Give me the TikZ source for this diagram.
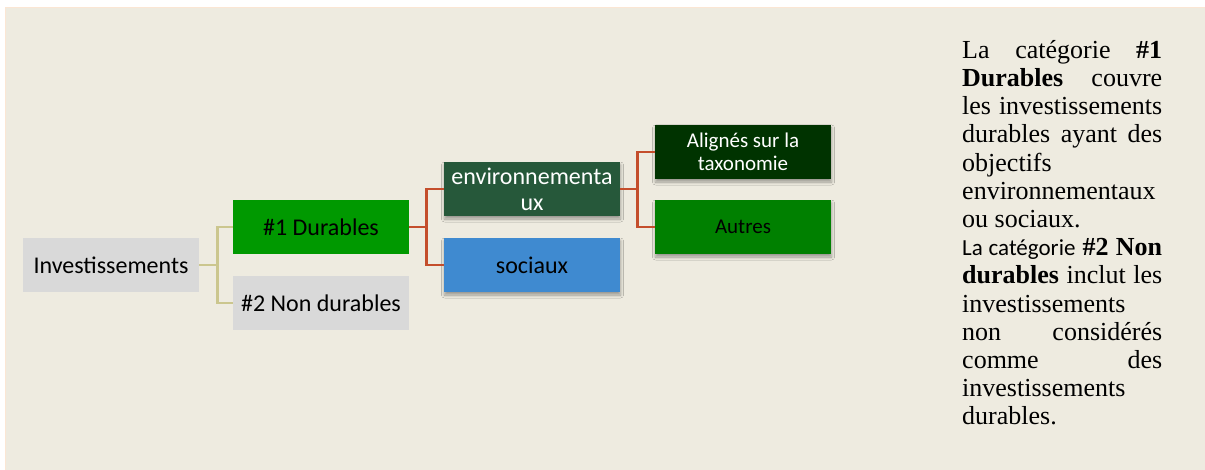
\documentclass[tikz,border=0pt]{standalone}
\usepackage{fontspec}
\setmainfont{Liberation Serif}
\newfontfamily\calfont{Carlito}
\usetikzlibrary{shadows.blur}
\definecolor{bgc}{HTML}{EEEBE0}
\definecolor{peach}{HTML}{FBE6D4}
\definecolor{grayb}{HTML}{D9D9D9}
\definecolor{greenA}{HTML}{009900}
\definecolor{envg}{HTML}{26583A}
\definecolor{blueS}{HTML}{3F8AD0}
\definecolor{darkg}{HTML}{003300}
\definecolor{greenB}{HTML}{008000}
\definecolor{olivel}{HTML}{CBC68E}
\definecolor{redl}{HTML}{C44E2C}
\tikzset{
  box/.style={rectangle, minimum width=176pt, minimum height=54pt, inner sep=0pt, align=center, font=\calfont\fontsize{24}{26}\selectfont},
  sbox/.style={box, font=\calfont\fontsize{21}{23}\selectfont},
  shad/.style={blur shadow={shadow xshift=0.5pt, shadow yshift=-3pt, shadow blur steps=6, shadow blur radius=3pt, shadow opacity=35}},
  oline/.style={draw=olivel, line width=2.6pt},
  rline/.style={draw=redl, line width=2.6pt},
}
\begin{document}
\begin{tikzpicture}[x=1pt,y=-1pt]
\useasboundingbox (0,0) rectangle (1205,470);
\fill[white] (0,0) rectangle (1205,470);
\fill[peach] (5,7) rectangle (1205,470);
\fill[bgc] (6,8) rectangle (1205,470);

\node[box, fill=grayb] (inv) at (111,265) {Investissements};
\node[box, fill=greenA] (dur) at (321,227) {\#1 Durables};
\node[box, fill=grayb] (non) at (321,303) {\#2 Non durables};
\node[box, fill=envg, text=white, shad] (env) at (532,189) {environnementa\\ux};
\node[box, fill=blueS, shad] (soc) at (532,265) {sociaux};
\node[sbox, fill=darkg, text=white, shad] (ali) at (743,152) {Alignés sur la\\taxonomie};
\node[sbox, fill=greenB, shad] (aut) at (743,227) {Autres};

\draw[oline] (inv.east) -- ++(18,0) coordinate (j1) |- (dur.west);
\draw[oline] (j1) |- (non.west);
\draw[rline] (dur.east) -- ++(17,0) coordinate (j2) |- (env.west);
\draw[rline] (j2) |- (soc.west);
\draw[rline] (env.east) -- ++(17,0) coordinate (j3) |- (ali.west);
\draw[rline] (j3) |- (aut.west);

\node[anchor=north west, inner sep=0pt, text width=200pt, align=justify,
  font=\fontsize{26}{28.2}\selectfont] (txt) at (962,40)
{La catégorie \textbf{\#1}\linebreak
\textbf{Durables} couvre\linebreak
les investissements\linebreak
durables ayant des\linebreak
objectifs\newline
environnementaux\newline
ou sociaux.\par
{\calfont\fontsize{23}{28.2}\selectfont La catégorie} \textbf{\#2 Non}\linebreak
\textbf{durables} inclut les\linebreak
investissements\newline
non considérés\linebreak
comme des\linebreak
investissements\newline
durables.};
\end{tikzpicture}
\end{document}
